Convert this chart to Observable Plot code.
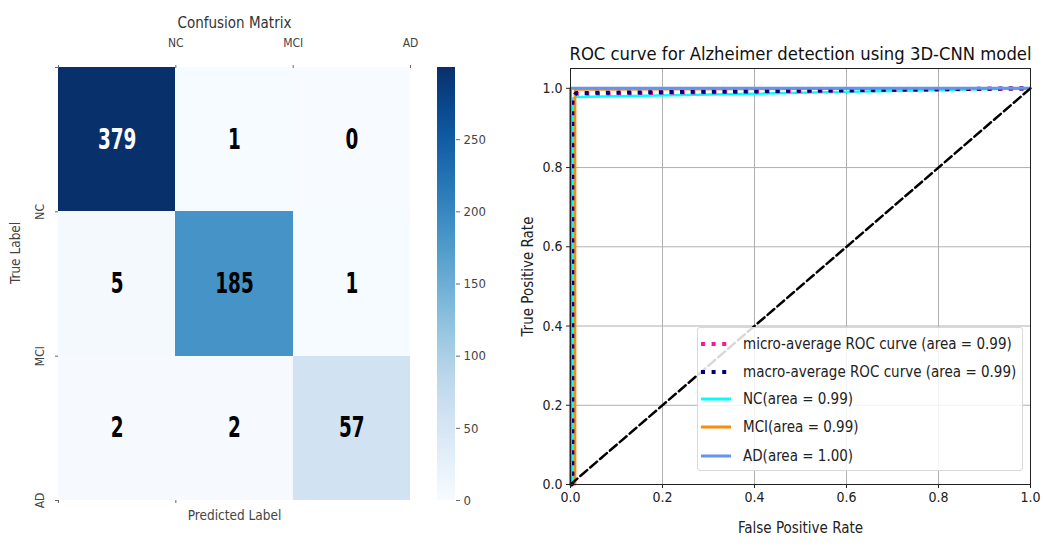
<!DOCTYPE html>
<html><head><meta charset="utf-8">
<script src="https://cdn.jsdelivr.net/npm/d3@7"></script>
<script src="https://cdn.jsdelivr.net/npm/@observablehq/plot@0.6"></script>
<style>
body{margin:0;background:#fff;}
#wrap{position:relative;width:1043px;height:546px;overflow:hidden;background:#fff;}
.panel{position:absolute;top:0;}
#legend{position:absolute;left:697px;top:327px;width:326px;height:144px;border:1px solid #d9d9d9;border-radius:3px;background:rgba(255,255,255,0.85);font-family:"DejaVu Sans Condensed","DejaVu Sans",sans-serif;font-size:15px;color:#222;box-sizing:border-box;}
.lrow{position:absolute;left:0;height:20px;display:flex;align-items:center;}
.lrow svg{margin-left:3px;margin-right:12px;}
</style></head><body>
<div id="wrap">
  <div id="cm" class="panel" style="left:0"></div>
  <div id="cb" class="panel" style="left:430px"></div>
  <div id="roc" class="panel" style="left:510px"></div>
  <div id="legend"></div>
</div>
<script>
// ---------- data ----------
const classes = ["NC", "MCI", "AD"];
const confusion = [
  [379, 1, 0],
  [5, 185, 1],
  [2, 2, 57]
];
const colorMax = 300;
const colorbarTicks = [0, 50, 100, 150, 200, 250];
const rocTicks = [0, 0.2, 0.4, 0.6, 0.8, 1.0];

const microFpr = [0, 0.003, 0.003, 0.01, 1.0];
const microTpr = [0, 0, 0.96, 0.986, 1.0];
const macroFpr = [0, 0.004, 0.004, 0.012, 1.0];
const macroTpr = [0, 0, 0.97, 0.988, 1.0];
const ncFpr = [0, 0.006, 0.006, 0.012, 1.0];
const ncTpr = [0, 0, 0.975, 0.978, 1.0];
const mciFpr = [0, 0.01, 0.01, 1.0];
const mciTpr = [0, 0, 0.997, 1.0];
const adFpr = [0, 0, 1.0];
const adTpr = [0, 1.0, 1.0];
const diagFpr = [0, 1];
const diagTpr = [0, 1];

const curveNames = [
  "micro-average ROC curve (area = 0.99)",
  "macro-average ROC curve (area = 0.99)",
  "NC(area = 0.99)",
  "MCI(area = 0.99)",
  "AD(area = 1.00)"
];
const curveColors = ["deeppink", "navy", "aqua", "darkorange", "cornflowerblue"];

// ---------- build tables ----------
const cells = [];
confusion.forEach((row, i) => row.forEach((v, j) => cells.push({row: i, col: j, value: v})));
const toPts = (xs, ys) => xs.map((x, i) => ({x, y: ys[i]}));
const curves = [
  {pts: toPts(microFpr, microTpr), stroke: curveColors[0], width: 4, dash: "4,6.6"},
  {pts: toPts(macroFpr, macroTpr), stroke: curveColors[1], width: 4, dash: "4,6.6"},
  {pts: toPts(ncFpr, ncTpr), stroke: curveColors[2], width: 2.5, dash: null},
  {pts: toPts(mciFpr, mciTpr), stroke: curveColors[3], width: 2.5, dash: null},
  {pts: toPts(adFpr, adTpr), stroke: curveColors[4], width: 3, dash: null}
];
// draw order as in the source figure: averages first, then classes
const drawOrder = [2, 3, 0, 1, 4];

const leftFont = '"DejaVu Sans Condensed","DejaVu Sans",sans-serif';
const rocFont = '"DejaVu Sans Condensed","DejaVu Sans",sans-serif';
const colorOpts = {type: "linear", scheme: "blues", domain: [0, colorMax], clamp: true};

// ---------- confusion matrix ----------
const cm = Plot.plot({
  width: 430, height: 546,
  marginLeft: 58, marginRight: 20, marginTop: 67, marginBottom: 46,
  style: {fontFamily: leftFont, fontSize: "12px", color: "#444", background: "#fff"},
  x: {domain: [0, 3], axis: null},
  y: {domain: [0, 3], reverse: true, axis: null},
  color: colorOpts,
  marks: [
    Plot.rect(cells, {x1: "col", x2: d => d.col + 1, y1: "row", y2: d => d.row + 1, fill: "value", shapeRendering: "crispEdges"}),
    Plot.text(cells, {x: d => d.col + 0.5, y: d => d.row + 0.5, text: d => String(d.value),
      fill: d => d.value > 250 ? "white" : "black", fontSize: 28, fontWeight: "bold",
      fontFamily: '"DejaVu Sans",sans-serif', className: "cellval"}),
    Plot.axisX({anchor: "top", ticks: [0, 1, 2, 3], tickFormat: d => d === 0 ? "" : classes[d - 1],
      tickSize: 3, tickPadding: 18, label: null, stroke: "#666"}),
    Plot.axisX({anchor: "bottom", ticks: [0, 1], tickFormat: () => "", tickSize: 3, label: null, stroke: "#666"}),
    Plot.axisY({anchor: "left", ticks: [0, 1, 2, 3], tickFormat: d => d === 0 ? "" : classes[d - 1],
      tickSize: 3, tickPadding: 12, tickRotate: -90, label: null, stroke: "#666"}),
    Plot.text(["Confusion Matrix"], {frameAnchor: "top", dy: -50, fontSize: 15, fill: "#333"}),
    Plot.text(["Predicted Label"], {frameAnchor: "bottom", dy: 19, fontSize: 13.5, fill: "#444"}),
    Plot.text(["True Label"], {frameAnchor: "left", dx: -43, rotate: -90, fontSize: 13.5, fill: "#444"})
  ]
});
// condensed look of the cell numbers
d3.select(cm).selectAll(".cellval text").each(function() {
  const n = this.textContent.length;
  this.setAttribute("textLength", n * 12.8);
  this.setAttribute("lengthAdjust", "spacingAndGlyphs");
});
document.getElementById("cm").appendChild(cm);

// ---------- colorbar ----------
const barSteps = d3.range(0, colorMax, 1);
const cb = Plot.plot({
  width: 70, height: 546,
  marginLeft: 7, marginRight: 45, marginTop: 67, marginBottom: 46,
  style: {fontFamily: leftFont, fontSize: "13px", color: "#444", background: "transparent"},
  y: {domain: [0, colorMax], axis: null},
  color: colorOpts,
  marks: [
    Plot.rect(barSteps, {y1: d => d, y2: d => d + 1.05, fill: d => d + 0.5, shapeRendering: "crispEdges"}),
    Plot.axisY({anchor: "right", ticks: colorbarTicks, tickSize: 4, tickPadding: 4, label: null, stroke: "#666"})
  ]
});
document.getElementById("cb").appendChild(cb);

// ---------- ROC ----------
const roc = Plot.plot({
  width: 533, height: 546,
  marginLeft: 60, marginRight: 13, marginTop: 68, marginBottom: 62,
  style: {fontFamily: rocFont, fontSize: "14px", color: "#222", background: "transparent"},
  x: {domain: [0, 1]},
  y: {domain: [0, 1.05]},
  marks: [
    Plot.gridX(rocTicks, {stroke: "#b0b0b0", strokeOpacity: 1, strokeWidth: 1}),
    Plot.gridY(rocTicks, {stroke: "#b0b0b0", strokeOpacity: 1, strokeWidth: 1}),
    ...drawOrder.map(i => curves[i]).map(c => Plot.line(c.pts, {x: "x", y: "y", stroke: c.stroke, strokeWidth: c.width,
      strokeDasharray: c.dash, strokeLinecap: "butt", strokeLinejoin: "miter"})),
    Plot.line(toPts(diagFpr, diagTpr), {x: "x", y: "y", stroke: "black", strokeWidth: 2.5, strokeDasharray: "9,4"}),
    Plot.frame({stroke: "#222", strokeWidth: 1}),
    Plot.axisX({ticks: rocTicks, tickFormat: ".1f", tickSize: 4, tickPadding: 4,
      label: "False Positive Rate", labelAnchor: "center", labelArrow: "none", labelOffset: 48, fontSize: 14}),
    Plot.axisY({ticks: rocTicks, tickFormat: ".1f", tickSize: 4, tickPadding: 4,
      label: "True Positive Rate", labelAnchor: "center", labelArrow: "none", labelOffset: 48, fontSize: 14}),
    Plot.text(["ROC curve for Alzheimer detection using 3D-CNN model"], {frameAnchor: "top", dy: -22, fontSize: 18.3, fill: "#111"})
  ]
});
d3.select(roc).selectAll("[aria-label$='axis label'] text").style("font-size", "15px");
document.getElementById("roc").appendChild(roc);

// ---------- legend ----------
const legend = document.getElementById("legend");
const rowTops = [6, 34, 61, 89, 118];
curves.forEach((c, i) => {
  const row = document.createElement("div");
  row.className = "lrow";
  row.style.top = rowTops[i] + "px";
  const dash = c.dash ? `stroke-dasharray="${c.dash}"` : "";
  row.innerHTML = `<svg width="30" height="10"><line x1="0" y1="5" x2="30" y2="5" stroke="${c.stroke}" stroke-width="${c.dash ? 4 : 3}" ${dash}/></svg><span>${curveNames[i]}</span>`;
  legend.appendChild(row);
});
</script>
</body></html>
